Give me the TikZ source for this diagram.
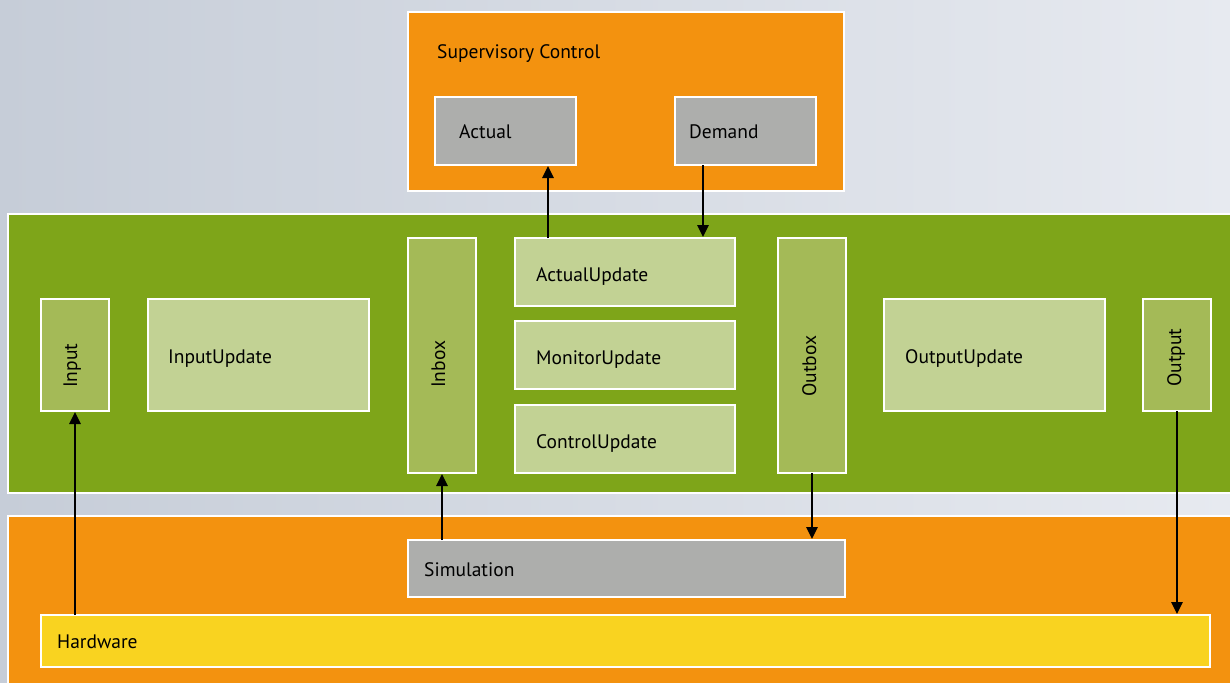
\documentclass[tikz,border=0pt]{standalone}
\usepackage{fontspec}
\setmainfont{PT Sans}
\usetikzlibrary{arrows.meta}
\definecolor{bgL}{HTML}{C6CDD8}
\definecolor{bgR}{HTML}{E7EAF0}
\definecolor{orng}{HTML}{F3920F}
\definecolor{grn}{HTML}{7EA519}
\definecolor{dgrn}{HTML}{A4BA57}
\definecolor{lgrn}{HTML}{C2D294}
\definecolor{gry}{HTML}{ADAEAC}
\definecolor{yel}{HTML}{F9D320}
\tikzset{
  box/.style={draw=white, line width=2pt},
  lbl/.style={anchor=base west, inner sep=0pt, font=\fontsize{19.5}{22}\selectfont, text=black},
  vlbl/.style={lbl, rotate=90},
  conn/.style={draw=black, line width=2.6pt, -{Triangle[width=11pt,length=12pt]}, shorten >=1pt},
}
\begin{document}
\begin{tikzpicture}[x=1pt,y=-1pt]
\useasboundingbox (0,0) rectangle (1230,682);
\shade[left color=bgL, right color=bgR] (0,0) rectangle (1230,682);

% supervisory
\draw[box, fill=orng] (408,12) rectangle (844,191);
\node[lbl] (sctext) at (437,59) {Supervisory Control};
\draw[box, fill=gry] (435,97) rectangle (576,165);
\node[lbl] at (459,138) {Actual};
\draw[box, fill=gry] (675,97) rectangle (816,165);
\node[lbl] at (689,138) {Demand};
\coordinate (actual) at (548,165);
\coordinate (demand) at (703,165);

% green layer
\draw[box, fill=grn] (8,214) rectangle (1240,493);
\draw[box, fill=dgrn] (41,299) rectangle (109,411);
\node[vlbl] at (77,388) {Input};
\draw[box, fill=lgrn] (148,299) rectangle (369,411);
\node[lbl] at (168,363) {InputUpdate};
\draw[box, fill=dgrn] (408,238) rectangle (476,473);
\node[vlbl] at (445,388) {Inbox};
\draw[box, fill=lgrn] (515,238) rectangle (735,306);
\node[lbl] at (536,281) {ActualUpdate};
\draw[box, fill=lgrn] (515,321) rectangle (735,389);
\node[lbl] at (536,364) {MonitorUpdate};
\draw[box, fill=lgrn] (515,405) rectangle (735,473);
\node[lbl] at (536,448) {ControlUpdate};
\draw[box, fill=dgrn] (778,238) rectangle (846,473);
\node[vlbl] at (816,397) {Outbox};
\draw[box, fill=lgrn] (884,299) rectangle (1105,411);
\node[lbl] at (905,363) {OutputUpdate};
\draw[box, fill=dgrn] (1143,299) rectangle (1211,411);
\node[vlbl] at (1181,387) {Output};

% bottom layer
\draw[box, fill=orng] (8,516) rectangle (1240,700);
\draw[box, fill=gry] (408,540) rectangle (845,597);
\node[lbl] at (424,576) {Simulation};
\draw[box, fill=yel] (41,615) rectangle (1210,667);
\node[lbl] at (57,648) {Hardware};

% connectors
\draw[conn] (548,238) -- (actual);
\draw[conn] (demand) -- (703,238);
\draw[conn] (75,615) -- (75,411);
\draw[conn] (442,540) -- (442,473);
\draw[conn] (812,473) -- (812,540);
\draw[conn] (1177,411) -- (1177,615);
\end{tikzpicture}
\end{document}
